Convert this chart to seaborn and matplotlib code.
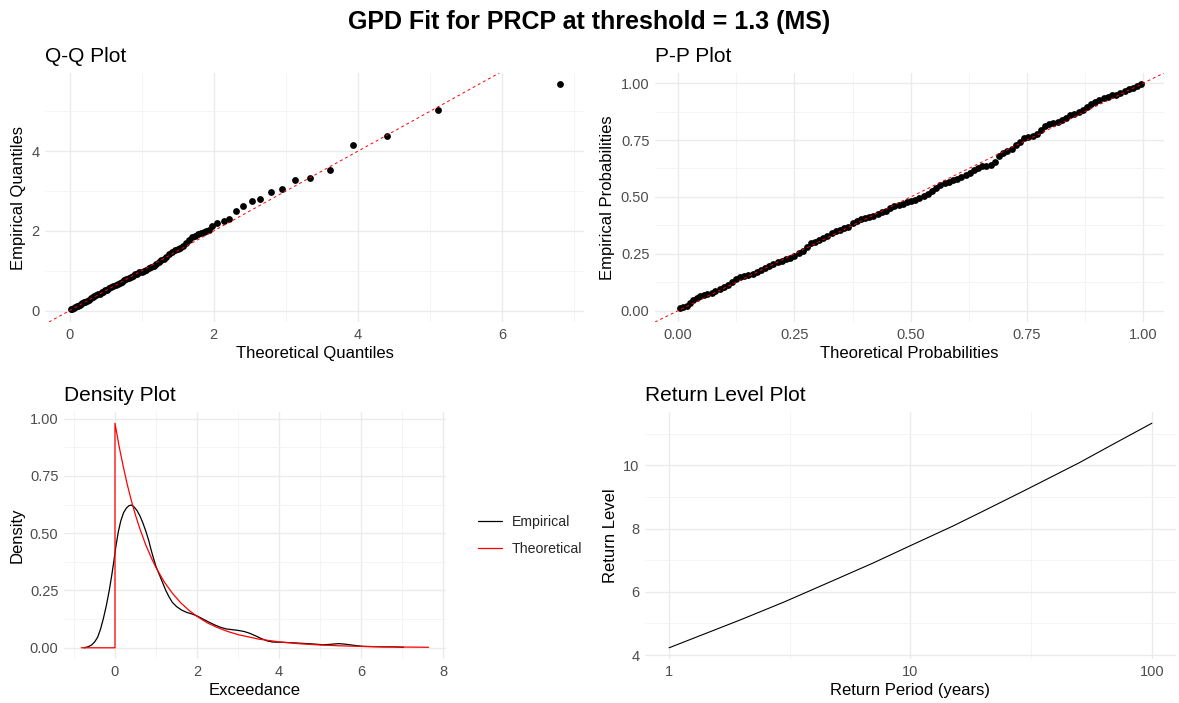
import numpy as np
import pandas as pd
import matplotlib
matplotlib.use("Agg")
import matplotlib.pyplot as plt
import seaborn as sns
from matplotlib.ticker import MultipleLocator, FixedLocator, FixedFormatter, FormatStrFormatter
from matplotlib.lines import Line2D

# ---------------- data ----------------
# Q-Q plot: theoretical vs empirical quantiles of the exceedances
qq_theoretical = [
    0.02, 0.04, 0.06, 0.08, 0.10, 0.12, 0.14, 0.16, 0.18, 0.20, 0.22, 0.245, 0.27, 0.295,
    0.32, 0.345, 0.37, 0.395, 0.42, 0.445, 0.47, 0.495, 0.52, 0.55, 0.58, 0.61, 0.64, 0.67,
    0.70, 0.73, 0.76, 0.79, 0.82, 0.85, 0.88, 0.91, 0.94, 0.97, 1.00, 1.03, 1.065, 1.10,
    1.135, 1.17, 1.205, 1.24, 1.275, 1.31, 1.345, 1.38, 1.42, 1.46, 1.50, 1.54, 1.58, 1.62,
    1.66, 1.70, 1.74, 1.78, 1.82, 1.86, 1.90, 1.94,
    1.98, 2.05, 2.14, 2.22, 2.31, 2.41, 2.53, 2.64, 2.79, 2.95, 3.13, 3.34, 3.61, 3.93,
    4.40, 5.12, 6.80,
]
qq_empirical = [
    0.03, 0.05, 0.07, 0.08, 0.11, 0.13, 0.15, 0.17, 0.19, 0.21, 0.23, 0.25, 0.27, 0.31,
    0.34, 0.37, 0.39, 0.41, 0.43, 0.46, 0.48, 0.51, 0.53, 0.56, 0.59, 0.61, 0.64, 0.67,
    0.70, 0.72, 0.76, 0.79, 0.82, 0.85, 0.88, 0.91, 0.93, 0.96, 0.98, 1.00, 1.03, 1.06,
    1.09, 1.11, 1.16, 1.22, 1.27, 1.30, 1.34, 1.41, 1.46, 1.52, 1.56, 1.58, 1.62, 1.69,
    1.77, 1.84, 1.88, 1.92, 1.95, 1.97, 1.99, 2.03,
    2.12, 2.21, 2.24, 2.31, 2.49, 2.62, 2.75, 2.81, 2.99, 3.06, 3.27, 3.34, 3.52, 4.15,
    4.38, 5.03, 5.68,
]

# P-P plot: theoretical vs empirical probabilities
pp_theoretical = [
    0.003, 0.010, 0.018, 0.026, 0.033, 0.040, 0.047, 0.055, 0.063, 0.072, 0.080, 0.089,
    0.098, 0.107, 0.116, 0.125, 0.133, 0.142, 0.151, 0.160, 0.169, 0.178, 0.187, 0.196,
    0.205, 0.214, 0.223, 0.232, 0.241, 0.250, 0.259, 0.268, 0.277, 0.285, 0.294, 0.303,
    0.312, 0.321, 0.330, 0.339, 0.348, 0.357, 0.366, 0.375, 0.384, 0.393, 0.402, 0.411,
    0.420, 0.429, 0.438, 0.447, 0.456, 0.465, 0.474, 0.483, 0.492, 0.501, 0.510, 0.519,
    0.528, 0.537, 0.546, 0.555, 0.564, 0.573, 0.582, 0.591, 0.600, 0.609, 0.618, 0.627,
    0.636, 0.645, 0.654, 0.663, 0.672, 0.681, 0.690, 0.699, 0.708, 0.717, 0.726, 0.735,
    0.744, 0.753, 0.762, 0.771, 0.780, 0.789, 0.798, 0.807, 0.816, 0.825, 0.834, 0.843,
    0.852, 0.861, 0.870, 0.879, 0.888, 0.897, 0.906, 0.915, 0.924, 0.933, 0.942, 0.951,
    0.960, 0.969, 0.978, 0.987, 0.995,
]
pp_empirical = [
    0.010, 0.014, 0.022, 0.032, 0.045, 0.055, 0.064, 0.070, 0.074, 0.078, 0.088, 0.096,
    0.104, 0.111, 0.124, 0.138, 0.148, 0.152, 0.156, 0.163, 0.170, 0.178, 0.187, 0.196,
    0.203, 0.212, 0.219, 0.226, 0.233, 0.240, 0.252, 0.264, 0.280, 0.298, 0.304, 0.312,
    0.318, 0.330, 0.342, 0.349, 0.356, 0.362, 0.370, 0.385, 0.396, 0.402, 0.406, 0.410,
    0.414, 0.424, 0.433, 0.440, 0.451, 0.459, 0.466, 0.471, 0.476, 0.482, 0.488, 0.494,
    0.502, 0.512, 0.527, 0.541, 0.553, 0.560, 0.567, 0.573, 0.580, 0.588, 0.596, 0.606,
    0.618, 0.627, 0.634, 0.638, 0.642, 0.654, 0.680, 0.692, 0.701, 0.712, 0.727, 0.742,
    0.758, 0.764, 0.769, 0.776, 0.793, 0.812, 0.820, 0.826, 0.831, 0.836, 0.847, 0.858,
    0.864, 0.872, 0.881, 0.897, 0.909, 0.918, 0.925, 0.934, 0.940, 0.946, 0.950, 0.955,
    0.966, 0.975, 0.981, 0.988, 0.995,
]

# Density plot: empirical kernel density and fitted GPD density
emp_x = [
    -0.75, -0.66, -0.57, -0.49, -0.42, -0.35, -0.28, -0.21, -0.14, -0.08, -0.03, 0.02,
    0.08, 0.14, 0.21, 0.28, 0.34, 0.40, 0.47, 0.54, 0.61, 0.68, 0.75, 0.82, 0.88, 0.94,
    1.00, 1.08, 1.16, 1.24, 1.31, 1.40, 1.50, 1.62, 1.74, 1.87, 2.00, 2.15, 2.30, 2.44,
    2.58, 2.72, 2.86, 3.00, 3.15, 3.29, 3.43, 3.57, 3.71, 3.85, 4.05, 4.32, 4.50, 4.69,
    4.88, 5.07, 5.25, 5.45, 5.60, 5.73, 5.90, 6.06, 6.30, 6.57, 6.80, 7.04,
]
emp_density = [
    0.000, 0.004, 0.012, 0.027, 0.047, 0.083, 0.130, 0.185, 0.250, 0.315, 0.375, 0.440,
    0.505, 0.553, 0.590, 0.610, 0.620, 0.623, 0.614, 0.598, 0.575, 0.545, 0.510, 0.470,
    0.428, 0.390, 0.355, 0.320, 0.285, 0.250, 0.225, 0.198, 0.180, 0.165, 0.155, 0.148,
    0.139, 0.125, 0.111, 0.099, 0.089, 0.082, 0.079, 0.076, 0.071, 0.063, 0.052, 0.040,
    0.030, 0.025, 0.024, 0.022, 0.020, 0.018, 0.016, 0.013, 0.015, 0.018, 0.016, 0.013,
    0.009, 0.006, 0.005, 0.004, 0.004, 0.002,
]
theo_x = [
    -0.82, 0.0, 0.0, 0.1, 0.2, 0.3, 0.4, 0.5, 0.6, 0.75, 0.9, 1.0, 1.2, 1.4, 1.6, 1.8,
    2.0, 2.25, 2.5, 2.75, 3.0, 3.5, 4.0, 4.5, 5.0, 5.5, 6.0, 6.5, 7.0, 7.65,
]
theo_density = [
    0.0, 0.0, 0.980, 0.880, 0.792, 0.712, 0.642, 0.579, 0.523, 0.449, 0.387, 0.350,
    0.288, 0.238, 0.197, 0.164, 0.137, 0.109, 0.088, 0.071, 0.0575, 0.038, 0.0258,
    0.0176, 0.0122, 0.0085, 0.0060, 0.0044, 0.0032, 0.0021,
]

# Return level plot
return_period = [1, 2, 3, 5, 7, 10, 15, 20, 30, 50, 70, 100]
return_level = [4.23, 5.13, 5.68, 6.42, 6.91, 7.46, 8.08, 8.55, 9.22, 10.08, 10.69, 11.33]

# ---------------- style ----------------
sns.set_theme(style="white")
plt.rcParams["font.family"] = ["Liberation Sans", "DejaVu Sans"]

W, H = 1179, 703
fig = plt.figure(figsize=(W / 100, H / 100), dpi=100)
fig.patch.set_facecolor("white")


def panel(left, top, right, bottom):
    return fig.add_axes([left / W, 1 - bottom / H, (right - left) / W, (bottom - top) / H])


def minimal(ax, title, xlabel, ylabel):
    ax.set_facecolor("white")
    for s in ax.spines.values():
        s.set_visible(False)
    ax.set_axisbelow(True)
    ax.grid(which="major", color="#EBEBEB", linewidth=1.0)
    ax.grid(which="minor", color="#F2F2F2", linewidth=0.6)
    ax.tick_params(which="both", length=0, labelsize=10.5, labelcolor="#4D4D4D", pad=4)
    ax.set_title(title, loc="left", fontsize=15, pad=8, color="black")
    ax.set_xlabel(xlabel, fontsize=12, color="black", labelpad=3)
    ax.set_ylabel(ylabel, fontsize=12, color="black", labelpad=4)


# Q-Q plot
ax1 = panel(45, 73, 584, 322)
sns.scatterplot(x=qq_theoretical, y=qq_empirical, ax=ax1, color="black", s=24,
                linewidth=0, zorder=3)
ax1.margins(0.05)
ax1.axline((0, 0), slope=1, color="red", linestyle=(0, (3, 3)), linewidth=0.7, zorder=4)
ax1.xaxis.set_major_locator(MultipleLocator(2))
ax1.xaxis.set_minor_locator(MultipleLocator(1))
ax1.yaxis.set_major_locator(MultipleLocator(2))
ax1.yaxis.set_minor_locator(MultipleLocator(1))
minimal(ax1, "Q-Q Plot", "Theoretical Quantiles", "Empirical Quantiles")

# P-P plot
ax2 = panel(655, 73, 1164, 322)
sns.scatterplot(x=pp_theoretical, y=pp_empirical, ax=ax2, color="black", s=24,
                linewidth=0, zorder=3)
ax2.margins(0.05)
ax2.axline((0, 0), slope=1, color="red", linestyle=(0, (3, 3)), linewidth=0.7, zorder=4)
for axis in (ax2.xaxis, ax2.yaxis):
    axis.set_major_locator(MultipleLocator(0.25))
    axis.set_minor_locator(MultipleLocator(0.125))
    axis.set_major_formatter(FormatStrFormatter("%.2f"))
minimal(ax2, "P-P Plot", "Theoretical Probabilities", "Empirical Probabilities")

# Density plot
ax3 = panel(64, 412, 446, 659)
dens = pd.concat([
    pd.DataFrame({"x": emp_x, "density": emp_density, "curve": "Empirical"}),
    pd.DataFrame({"x": theo_x, "density": theo_density, "curve": "Theoretical"}),
], ignore_index=True)
sns.lineplot(data=dens, x="x", y="density", hue="curve",
             palette={"Empirical": "black", "Theoretical": "red"},
             sort=False, estimator=None, linewidth=0.9, ax=ax3, legend=False)
ax3.margins(0.05)
ax3.xaxis.set_major_locator(MultipleLocator(2))
ax3.xaxis.set_minor_locator(MultipleLocator(1))
ax3.yaxis.set_major_locator(MultipleLocator(0.25))
ax3.yaxis.set_minor_locator(MultipleLocator(0.125))
ax3.yaxis.set_major_formatter(FormatStrFormatter("%.2f"))
minimal(ax3, "Density Plot", "Exceedance", "Density")
handles = [Line2D([], [], color="black", linewidth=0.9),
           Line2D([], [], color="red", linewidth=0.9)]
leg = ax3.legend(handles, ["Empirical", "Theoretical"], loc="center left",
                 bbox_to_anchor=(1.05, 0.50), frameon=False, fontsize=10.2,
                 handlelength=1.7, handletextpad=0.7, labelspacing=0.95)

# Return level plot
ax4 = panel(645, 412, 1176, 659)
sns.lineplot(x=return_period, y=return_level, ax=ax4, color="black", linewidth=0.8)
ax4.set_xscale("log")
ax4.margins(0.05)
ax4.xaxis.set_major_locator(FixedLocator([1, 10, 100]))
ax4.xaxis.set_major_formatter(FixedFormatter(["1", "10", "100"]))
ax4.xaxis.set_minor_locator(FixedLocator([10 ** 0.5, 10 ** 1.5]))
ax4.xaxis.set_minor_formatter(FixedFormatter(["", ""]))
ax4.yaxis.set_major_locator(MultipleLocator(2))
ax4.yaxis.set_minor_locator(MultipleLocator(1))
minimal(ax4, "Return Level Plot", "Return Period (years)", "Return Level")

fig.text(0.5, 1 - 22 / H, "GPD Fit for PRCP at threshold = 1.3 (MS)", ha="center",
         va="center", fontsize=18, fontweight="bold", color="black")

fig.savefig("out.png", dpi=100, facecolor="white")
